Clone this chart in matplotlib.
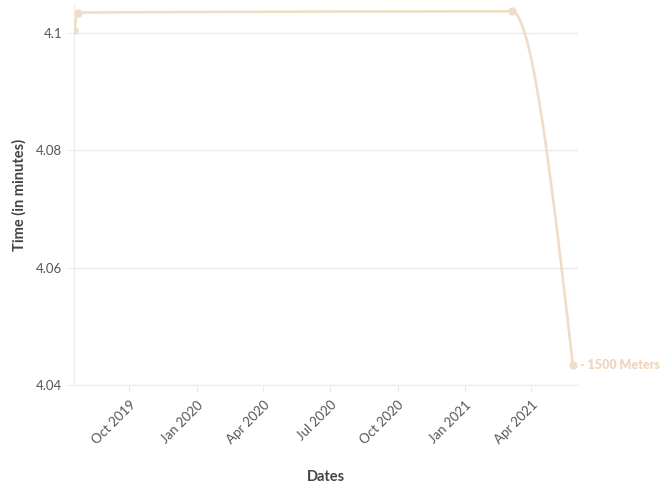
import numpy as np
import pandas as pd
import matplotlib
matplotlib.use("Agg")
import matplotlib.pyplot as plt
import matplotlib.dates as mdates
from matplotlib.ticker import FuncFormatter

plt.rcParams['font.family'] = ['Lato', 'DejaVu Sans']

# data
dates = ["2019-07-18", "2019-07-24", "2021-03-06", "2021-05-28"]
times = [4.1004, 4.1034, 4.1036, 4.0434]
series_label = "1500 Meters"
y_ticks = [4.04, 4.06, 4.08, 4.1]
x_ticks = ["2019-10-01", "2020-01-01", "2020-04-01", "2020-07-01",
           "2020-10-01", "2021-01-01", "2021-04-01"]

line_color = "#f1dcc6"
grid_color = "#ebebeb"
text_color = "#555555"


def monotone_curve(x, y, n=60):
    # d3-style monotone cubic (Steffen) between the points
    x = np.asarray(x, float)
    y = np.asarray(y, float)
    h = np.diff(x)
    s = np.diff(y) / h
    m = np.zeros_like(y)
    for i in range(1, len(x) - 1):
        p = (s[i - 1] * h[i] + s[i] * h[i - 1]) / (h[i - 1] + h[i])
        m[i] = (np.sign(s[i - 1]) + np.sign(s[i])) * min(abs(s[i - 1]), abs(s[i]), 0.5 * abs(p))
    m[0] = (3 * s[0] - m[1]) / 2 if len(x) > 2 else s[0]
    m[-1] = (3 * s[-1] - m[-2]) / 2 if len(x) > 2 else s[-1]
    xs, ys = [], []
    for i in range(len(x) - 1):
        t = np.linspace(0, 1, n)
        h00 = 2 * t**3 - 3 * t**2 + 1
        h10 = t**3 - 2 * t**2 + t
        h01 = -2 * t**3 + 3 * t**2
        h11 = t**3 - t**2
        xs.append(x[i] + t * h[i])
        ys.append(h00 * y[i] + h10 * h[i] * m[i] + h01 * y[i + 1] + h11 * h[i] * m[i + 1])
    return np.concatenate(xs), np.concatenate(ys)


d = mdates.date2num(pd.to_datetime(dates))

fig = plt.figure(figsize=(6.65, 4.87), dpi=100)
ax = fig.add_axes([74 / 665, 102 / 487, 504 / 665, 380 / 487])

cx, cy = monotone_curve(d, times)
ax.plot(cx, cy, color=line_color, lw=1.9, solid_capstyle='round', zorder=3)
ax.plot(d, times, 'o', color=line_color, ms=5, zorder=4)

ax.annotate("- " + series_label, xy=(d[-1], times[-1]), xytext=(5, 0),
            textcoords='offset points', va='center', ha='left',
            color="#efd6bd", fontsize=9, fontweight='heavy', annotation_clip=False)

ax.set_xlim(mdates.date2num(pd.Timestamp("2019-07-18")),
            mdates.date2num(pd.Timestamp("2021-06-04")))
ax.set_ylim(4.04, 4.04 + 380 / 5875)

ax.set_yticks(y_ticks)
ax.yaxis.set_major_formatter(FuncFormatter(lambda v, p: f"{v:g}"))
ax.set_xticks(mdates.date2num(pd.to_datetime(x_ticks)))
ax.xaxis.set_major_formatter(mdates.DateFormatter("%b %Y"))
for lbl in ax.get_xticklabels():
    lbl.set_rotation(45)
    lbl.set_ha('right')
    lbl.set_rotation_mode('anchor')

ax.grid(axis='y', color=grid_color, lw=1)
ax.set_axisbelow(True)
for side in ['top', 'right']:
    ax.spines[side].set_visible(False)
for side in ['left', 'bottom']:
    ax.spines[side].set_color(grid_color)
ax.tick_params(axis='both', colors=grid_color, labelcolor=text_color, labelsize=9.5, length=5)
ax.tick_params(axis='x', pad=5)

ax.set_xlabel("Dates", fontsize=10.5, fontweight='bold', color="#444444", labelpad=17)
ax.set_ylabel("Time (in minutes)", fontsize=10.5, fontweight='bold', color="#444444", labelpad=7)

fig.savefig("out.png", dpi=100)
